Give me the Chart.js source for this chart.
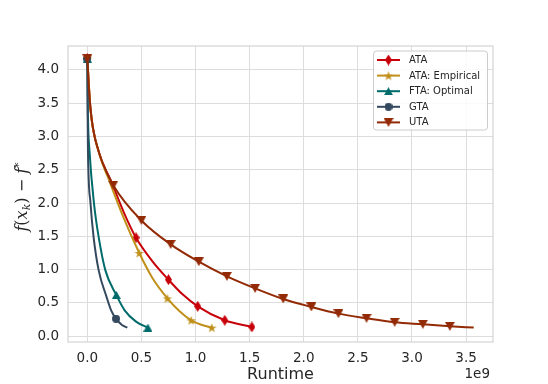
<!DOCTYPE html>
<html>
<head>
<meta charset="utf-8">
<script src="https://cdn.jsdelivr.net/npm/chart.js@4.4.1/dist/chart.umd.min.js"></script>
<style>
  html, body { margin: 0; padding: 0; background: #fff; }
  #wrap { width: 548px; height: 384px; }
</style>
</head>
<body>
<div id="wrap"><canvas id="chart"></canvas></div>
<script>
// runtime in units of 1e9, suboptimality f(x_k) - f*
const ataX = [0, 0.03, 0.10, 0.22, 0.34, 0.45, 0.60, 0.75, 0.88, 1.02, 1.27, 1.52];
const ataY = [4.17, 3.40, 2.80, 2.33, 1.85, 1.48, 1.13, 0.85, 0.63, 0.45, 0.24, 0.14];
const ataMarks = [0, 5, 7, 9, 10, 11];

const empX = [0, 0.03, 0.10, 0.20, 0.33, 0.48, 0.60, 0.74, 0.85, 0.96, 1.06, 1.15];
const empY = [4.17, 3.40, 2.80, 2.35, 1.80, 1.25, 0.88, 0.57, 0.38, 0.24, 0.17, 0.13];
const empMarks = [0, 5, 7, 9, 11];

const ftaX = [0, 0.006, 0.02, 0.062, 0.105, 0.167, 0.268, 0.345, 0.45, 0.56];
const ftaY = [4.17, 3.30, 2.79, 1.99, 1.49, 0.99, 0.62, 0.39, 0.22, 0.13];
const ftaMarks = [0, 6, 9];

const gtaX = [0, 0.003, 0.006, 0.03, 0.058, 0.105, 0.176, 0.22, 0.265, 0.32, 0.37];
const gtaY = [4.17, 3.30, 2.79, 1.99, 1.49, 0.99, 0.60, 0.39, 0.265, 0.17, 0.13];
const gtaMarks = [0, 8];

const utaX = [0, 0.02, 0.05, 0.12, 0.24, 0.50, 0.77, 1.03, 1.29, 1.55, 1.81, 2.07, 2.32, 2.58, 2.84, 3.10, 3.35, 3.57];
const utaY = [4.17, 3.60, 3.15, 2.70, 2.27, 1.74, 1.38, 1.12, 0.90, 0.72, 0.56, 0.44, 0.34, 0.27, 0.21, 0.18, 0.15, 0.13];
const utaMarks = [0, 4, 5, 6, 7, 8, 9, 10, 11, 12, 13, 14, 15, 16];

const seriesNames = ["ATA", "ATA: Empirical", "FTA: Optimal", "GTA", "UTA"];
const xTickValues = [0, 0.5, 1.0, 1.5, 2.0, 2.5, 3.0, 3.5];
const yTickValues = [0, 0.5, 1.0, 1.5, 2.0, 2.5, 3.0, 3.5, 4.0];

const colors = ["#c8000a", "#c0901a", "#006b6b", "#34495e", "#932a06"];
const TICK_FONT = "DejaVu Sans";

function makeMarker(shape, color, w, h) {
  const c = document.createElement("canvas");
  c.width = w;
  c.height = h;
  const g = c.getContext("2d");
  const cx = w / 2, cy = h / 2;
  g.fillStyle = color;
  g.beginPath();
  if (shape === "diamond") {
    g.moveTo(cx, 0);
    g.lineTo(w, cy);
    g.lineTo(cx, h);
    g.lineTo(0, cy);
  } else if (shape === "star") {
    const ro = w / 2, ri = ro * 0.4;
    for (let i = 0; i < 10; i++) {
      const a = -Math.PI / 2 + i * Math.PI / 5;
      const r = i % 2 === 0 ? ro : ri;
      g.lineTo(cx + r * Math.cos(a), cy + 0.5 + r * Math.sin(a));
    }
  } else if (shape === "triUp") {
    g.moveTo(cx, 0);
    g.lineTo(w, h);
    g.lineTo(0, h);
  } else if (shape === "triDown") {
    g.moveTo(0, 0);
    g.lineTo(w, 0);
    g.lineTo(cx, h);
  } else {
    g.arc(cx, cy, w / 2, 0, Math.PI * 2);
  }
  g.closePath();
  g.fill();
  return c;
}

const markers = [
  makeMarker("diamond", colors[0], 7, 11),
  makeMarker("star", colors[1], 10, 10),
  makeMarker("triUp", colors[2], 9, 8),
  makeMarker("circle", colors[3], 8, 8),
  makeMarker("triDown", colors[4], 10, 9),
];

function toPoints(xs, ys) {
  return xs.map((x, i) => ({ x: x, y: ys[i] }));
}

const allX = [ataX, empX, ftaX, gtaX, utaX];
const allY = [ataY, empY, ftaY, gtaY, utaY];
const allMarks = [ataMarks, empMarks, ftaMarks, gtaMarks, utaMarks];

const datasets = seriesNames.map((name, i) => ({
  label: name,
  data: toPoints(allX[i], allY[i]),
  borderColor: colors[i],
  backgroundColor: colors[i],
  borderWidth: 2,
  cubicInterpolationMode: "monotone",
  pointStyle: markers[i],
  pointRadius: (ctx) => (allMarks[i].includes(ctx.dataIndex) ? 4 : 0),
  order: 4 - i,
}));

const extrasPlugin = {
  id: "extras",
  afterDraw(chart) {
    const ctx = chart.ctx;
    const a = chart.chartArea;
    ctx.save();
    // full frame
    ctx.strokeStyle = "#d4d4d4";
    ctx.lineWidth = 1.2;
    ctx.strokeRect(a.left, a.top, a.right - a.left, a.bottom - a.top);

    // x title + offset
    ctx.fillStyle = "#262626";
    ctx.font = "16px '" + TICK_FONT + "'";
    ctx.textAlign = "center";
    ctx.textBaseline = "middle";
    ctx.fillText("Runtime", (a.left + a.right) / 2, 375);
    ctx.font = "13.5px '" + TICK_FONT + "'";
    ctx.textAlign = "right";
    ctx.fillText("1e9", a.right - 3, 374);

    // y title f(x_k) - f*
    ctx.translate(22, 197);
    ctx.rotate(-Math.PI / 2);
    ctx.textBaseline = "alphabetic";
    ctx.textAlign = "left";
    const big = "italic 16px 'DejaVu Serif'";
    const small = "italic 11px 'DejaVu Serif'";
    const parts = [
      { t: "f", f: big, dy: 0 },
      { t: "(", f: "16px 'DejaVu Serif'", dy: 0 },
      { t: "x", f: big, dy: 0 },
      { t: "k", f: small, dy: 3 },
      { t: ")", f: "16px 'DejaVu Serif'", dy: 0 },
      { t: " \u2212 ", f: "16px 'DejaVu Serif'", dy: 0 },
      { t: "f", f: big, dy: 0 },
      { t: "*", f: "11px 'DejaVu Serif'", dy: -5 },
    ];
    let total = 0;
    parts.forEach((p) => { ctx.font = p.f; total += ctx.measureText(p.t).width; });
    let x = -total / 2;
    parts.forEach((p) => {
      ctx.font = p.f;
      ctx.fillText(p.t, x, 5 + p.dy);
      x += ctx.measureText(p.t).width;
    });
    ctx.restore();

    // legend
    ctx.save();
    const lx = 373.5, ly = 51, lw = 114, lh = 79;
    ctx.fillStyle = "rgba(255,255,255,0.85)";
    ctx.strokeStyle = "#cccccc";
    ctx.lineWidth = 1;
    ctx.beginPath();
    ctx.roundRect(lx, ly, lw, lh, 3);
    ctx.fill();
    ctx.stroke();
    ctx.font = "10px '" + TICK_FONT + "'";
    ctx.textBaseline = "middle";
    ctx.textAlign = "left";
    seriesNames.forEach((name, i) => {
      const y = 60 + i * 15.6;
      ctx.strokeStyle = colors[i];
      ctx.lineWidth = 2;
      ctx.beginPath();
      ctx.moveTo(377, y);
      ctx.lineTo(400, y);
      ctx.stroke();
      const m = markers[i];
      ctx.drawImage(m, 388.5 - m.width / 2, y - m.height / 2);
      ctx.fillStyle = "#262626";
      ctx.fillText(name, 409, y + 0.5);
    });
    ctx.restore();
  },
};

new Chart(document.getElementById("chart"), {
  type: "line",
  data: { datasets: datasets },
  plugins: [extrasPlugin],
  options: {
    responsive: true,
    maintainAspectRatio: false,
    animation: false,
    events: [],
    layout: { padding: { left: 0, top: 46, right: 55, bottom: 0 } },
    plugins: { legend: { display: false }, tooltip: { enabled: false } },
    scales: {
      x: {
        type: "linear",
        min: -0.1785,
        max: 3.7485,
        afterFit: (s) => { s.height = 42; },
        afterBuildTicks: (s) => { s.ticks = xTickValues.map((v) => ({ value: v })); },
        grid: { color: "#dddddd", lineWidth: 1, drawTicks: false },
        border: { display: false },
        ticks: {
          padding: 8,
          color: "#262626",
          font: { family: TICK_FONT, size: 13.5 },
          callback: (v) => v.toFixed(1),
          maxRotation: 0,
        },
      },
      y: {
        type: "linear",
        min: -0.086,
        max: 4.36,
        afterFit: (s) => { s.width = 68; },
        afterBuildTicks: (s) => { s.ticks = yTickValues.map((v) => ({ value: v })); },
        grid: { color: "#dddddd", lineWidth: 1, drawTicks: false },
        border: { display: false },
        ticks: {
          padding: 9,
          color: "#262626",
          font: { family: TICK_FONT, size: 13.5 },
          callback: (v) => v.toFixed(1),
        },
      },
    },
  },
});
</script>
</body>
</html>
